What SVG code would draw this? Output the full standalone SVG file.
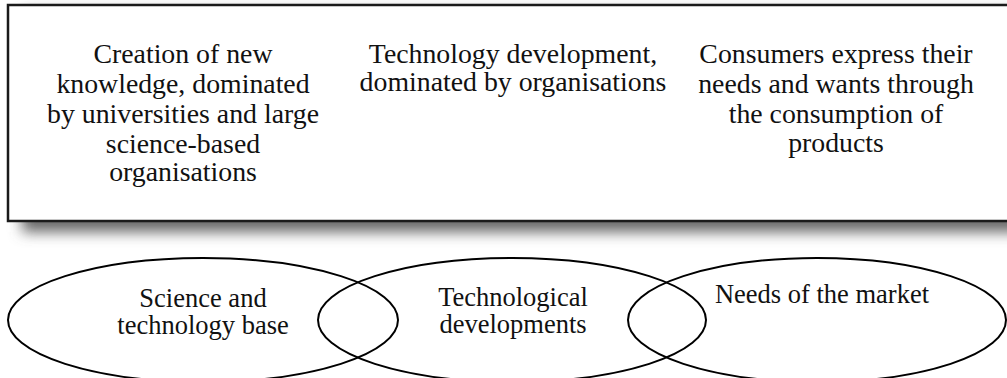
<svg xmlns="http://www.w3.org/2000/svg" width="1007" height="378" viewBox="0 0 1007 378">
  <style>
    .lbl { font-family: "Liberation Serif", "Times New Roman", serif; font-size: 26.5px; fill: #111; text-anchor: middle; }
    .big { font-size: 27.8px; }
    .frame { fill: #fff; stroke: #1a1a1a; stroke-width: 2.5; }
    .ring { fill: none; stroke: #000; stroke-width: 2; }
  </style>
  <defs>
    <filter id="soft" x="-5%" y="-20%" width="110%" height="140%">
      <feGaussianBlur stdDeviation="7"/>
    </filter>
  </defs>

  <!-- Upper panel with drop shadow -->
  <g id="panel">
    <rect x="22" y="12" width="1010" height="220" fill="#666" filter="url(#soft)"/>
    <rect class="frame" x="8" y="5" width="1010" height="216"/>
  </g>

  <g id="note-science">
    <text class="lbl big" x="183" y="63">Creation of new<tspan x="183" dy="30">knowledge, dominated</tspan><tspan x="183" dy="30">by universities and large</tspan><tspan x="183" dy="29.5">science-based</tspan><tspan x="183" dy="28.5">organisations</tspan></text>
  </g>

  <g id="note-technology">
    <text class="lbl big" x="513" y="63">Technology development,<tspan x="513" dy="28">dominated by organisations</tspan></text>
  </g>

  <g id="note-market">
    <text class="lbl big" x="836" y="63">Consumers express their<tspan x="836" dy="30">needs and wants through</tspan><tspan x="836" dy="30">the consumption of</tspan><tspan x="836" dy="29">products</tspan></text>
  </g>

  <!-- Overlapping ellipses -->
  <g id="science-base">
    <ellipse class="ring" cx="203" cy="320" rx="195" ry="62"/>
    <text class="lbl" x="203" y="307">Science and<tspan x="203" dy="27">technology base</tspan></text>
  </g>

  <g id="tech-developments">
    <ellipse class="ring" cx="512" cy="320" rx="194" ry="62"/>
    <text class="lbl" x="513" y="306">Technological<tspan x="513" dy="27">developments</tspan></text>
  </g>

  <g id="market-needs">
    <ellipse class="ring" cx="817" cy="320" rx="189" ry="62"/>
    <text class="lbl" x="822" y="303">Needs of the market</text>
  </g>

  <g id="connectors"></g>
</svg>
